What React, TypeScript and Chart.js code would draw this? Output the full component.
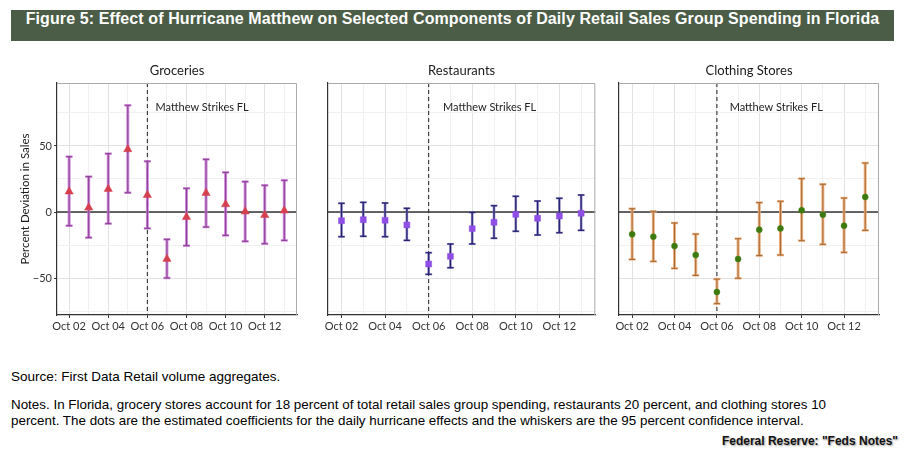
import React, { useEffect, useRef } from "react";
import { Chart, registerables } from "chart.js";

Chart.register(...registerables);

// ---------- data ----------
const dates = ["Oct 02", "Oct 03", "Oct 04", "Oct 05", "Oct 06", "Oct 07", "Oct 08", "Oct 09", "Oct 10", "Oct 11", "Oct 12", "Oct 13"];
const eventIndex = 4; // Oct 06
const eventLabel = "Matthew Strikes FL";
const yTicks = [-75, -50, -25, 0, 25, 50, 75];
const yLabelTicks = [-50, 0, 50];

const groceriesEst = [15.4, 3.3, 17.4, 47.5, 12.8, -35.6, -3.8, 14.4, 5.8, 0.3, -2.3, 1.0];
const groceriesLow = [-10.4, -19.4, -8.8, 14.6, -12.4, -50.0, -25.5, -11.4, -17.7, -22.2, -24.0, -21.5];
const groceriesHigh = [41.9, 26.8, 44.2, 80.8, 38.4, -20.7, 17.9, 39.9, 30.0, 23.0, 20.2, 24.0];

const restaurantsEst = [-6.6, -5.8, -6.3, -9.8, -39.4, -33.6, -12.6, -7.8, -1.8, -4.8, -3.0, -1.0];
const restaurantsLow = [-18.7, -18.4, -18.7, -21.5, -47.2, -42.2, -24.2, -19.9, -14.6, -17.4, -15.7, -13.9];
const restaurantsHigh = [6.6, 7.3, 6.8, 2.8, -30.8, -24.2, -0.3, 4.8, 11.9, 8.3, 10.4, 12.9];

const clothingEst = [-16.9, -18.7, -25.8, -32.6, -60.6, -35.6, -13.4, -12.4, 1.3, -2.0, -10.4, 11.4];
const clothingLow = [-35.9, -37.4, -42.7, -48.0, -69.4, -50.2, -33.0, -32.6, -21.7, -24.5, -30.6, -13.9];
const clothingHigh = [2.5, 0.5, -8.3, -16.7, -50.8, -20.2, 7.1, 8.1, 25.3, 21.0, 10.6, 37.1];

const FONT = "Lato, 'Open Sans', sans-serif";

type PanelCfg = {
  title: string;
  est: number[];
  low: number[];
  high: number[];
  left: number;
  width: number;
  yWidth: number;
  padRight: number;
  showY: boolean;
  pointStyle: string;
  pointColor: string;
  pointRadius: number;
  outer: string;
  outerWidth: number;
  inner: string;
  innerWidth: number;
};

const panels: PanelCfg[] = [
  {
    title: "Groceries", est: groceriesEst, low: groceriesLow, high: groceriesHigh,
    left: 0, width: 310, yWidth: 57, padRight: 13, showY: true,
    pointStyle: "triangle", pointColor: "#d6404e", pointRadius: 4.8,
    outer: "rgba(196,118,210,0.85)", outerWidth: 3, inner: "#8b3d93", innerWidth: 1,
  },
  {
    title: "Restaurants", est: restaurantsEst, low: restaurantsLow, high: restaurantsHigh,
    left: 310, width: 290, yWidth: 18, padRight: 2, showY: false,
    pointStyle: "rect", pointColor: "#8f4fe6", pointRadius: 4.2,
    outer: "rgba(112,106,184,0.8)", outerWidth: 2.6, inner: "#26216e", innerWidth: 1.2,
  },
  {
    title: "Clothing Stores", est: clothingEst, low: clothingLow, high: clothingHigh,
    left: 600, width: 290, yWidth: 19, padRight: 11, showY: false,
    pointStyle: "circle", pointColor: "#3d7a10", pointRadius: 3,
    outer: "rgba(234,174,126,0.95)", outerWidth: 3, inner: "#a8672f", innerWidth: 1,
  },
];

function makePlugin(cfg: PanelCfg) {
  return {
    id: "panelDecor",
    beforeDatasetsDraw(chart: any) {
      const { ctx, chartArea: a, scales } = chart;
      const x = scales.x;
      const y = scales.y;
      const line = (x1: number, y1: number, x2: number, y2: number) => {
        ctx.beginPath();
        ctx.moveTo(x1, y1);
        ctx.lineTo(x2, y2);
        ctx.stroke();
      };
      ctx.save();
      // zero line
      ctx.strokeStyle = "#333";
      ctx.lineWidth = 1.3;
      const y0 = y.getPixelForValue(0);
      line(a.left, y0, a.right, y0);
      // event line
      const xe = x.getPixelForValue(eventIndex);
      ctx.lineWidth = 1.1;
      ctx.setLineDash([4, 3]);
      line(xe, a.top, xe, a.bottom);
      ctx.setLineDash([]);
      // whiskers
      const cap = 3;
      for (let i = 0; i < cfg.est.length; i++) {
        const px = x.getPixelForValue(i);
        const lo = y.getPixelForValue(cfg.low[i]);
        const hi = y.getPixelForValue(cfg.high[i]);
        ctx.strokeStyle = cfg.outer;
        ctx.lineWidth = cfg.outerWidth;
        line(px, lo, px, hi);
        ctx.lineWidth = cfg.outerWidth - 0.6;
        line(px - cap - 0.5, lo, px + cap + 0.5, lo);
        line(px - cap - 0.5, hi, px + cap + 0.5, hi);
        ctx.strokeStyle = cfg.inner;
        ctx.lineWidth = cfg.innerWidth;
        line(px, lo, px, hi);
        line(px - cap, lo, px + cap, lo);
        line(px - cap, hi, px + cap, hi);
      }
      ctx.restore();
    },
    afterDraw(chart: any) {
      const { ctx, chartArea: a, scales } = chart;
      const x = scales.x;
      const y = scales.y;
      ctx.save();
      // top/right border
      ctx.strokeStyle = "#ababab";
      ctx.lineWidth = 1;
      ctx.beginPath();
      ctx.moveTo(a.left, a.top + 0.5);
      ctx.lineTo(a.right - 0.5, a.top + 0.5);
      ctx.lineTo(a.right - 0.5, a.bottom);
      ctx.stroke();
      // panel title
      ctx.fillStyle = "#1a1a1a";
      ctx.font = `13px ${FONT}`;
      ctx.textAlign = "center";
      ctx.textBaseline = "middle";
      ctx.fillText(cfg.title, (a.left + a.right) / 2, 16);
      // annotation
      ctx.fillStyle = "#222";
      ctx.font = `11px ${FONT}`;
      ctx.fillText(eventLabel, x.getPixelForValue(6.8), y.getPixelForValue(79));
      // y title
      if (cfg.showY) {
        ctx.translate(25, (a.top + a.bottom) / 2);
        ctx.rotate(-Math.PI / 2);
        ctx.fillStyle = "#1a1a1a";
        ctx.font = `11.5px ${FONT}`;
        ctx.fillText("Percent Deviation in Sales", 0, 0);
      }
      ctx.restore();
    },
  };
}

function Panel({ cfg }: { cfg: PanelCfg }) {
  const ref = useRef<HTMLCanvasElement>(null);
  useEffect(() => {
    if (!ref.current) return;
    const chart = new Chart(ref.current, {
      type: "scatter",
      data: {
        datasets: [
          {
            data: cfg.est.map((v, i) => ({ x: i, y: v })),
            pointStyle: cfg.pointStyle as any,
            pointRadius: cfg.pointRadius,
            pointBackgroundColor: cfg.pointColor,
            pointBorderColor: cfg.pointColor,
            pointBorderWidth: 0.5,
          },
        ],
      },
      options: {
        animation: false,
        responsive: true,
        maintainAspectRatio: false,
        layout: { padding: { top: 28, right: cfg.padRight, bottom: 0, left: 0 } },
        plugins: { legend: { display: false }, tooltip: { enabled: false }, title: { display: false } },
        scales: {
          x: {
            type: "linear",
            min: -0.62,
            max: 11.65,
            afterBuildTicks: (s: any) => {
              s.ticks = dates.map((_, i) => ({ value: i }));
            },
            afterFit: (s: any) => {
              s.height = 30;
            },
            ticks: {
              autoSkip: false,
              maxRotation: 0,
              padding: 2,
              color: "#333",
              font: { family: FONT, size: 11 },
              callback: (_v: any, i: number) => (i % 2 === 0 ? dates[i] : ""),
            },
            grid: {
              color: (c: any) => (c.index % 2 === 0 ? "#e2e2e2" : "#f1f1f1"),
              lineWidth: 1,
              drawTicks: true,
              tickLength: 3,
              tickColor: (c: any) => (c.index % 2 === 0 ? "#333" : "rgba(0,0,0,0)"),
            },
            border: { color: "#333", width: 1.2 },
          },
          y: {
            type: "linear",
            min: -78,
            max: 97.7,
            afterBuildTicks: (s: any) => {
              s.ticks = yTicks.map((v) => ({ value: v }));
            },
            afterFit: (s: any) => {
              s.width = cfg.yWidth;
            },
            ticks: {
              display: cfg.showY,
              padding: 2,
              color: "#333",
              font: { family: FONT, size: 11 },
              callback: (v: any) =>
                yLabelTicks.includes(Number(v)) ? (Number(v) < 0 ? "\u2212" + Math.abs(Number(v)) : String(v)) : "",
            },
            grid: {
              color: (c: any) => (c.tick && c.tick.value % 50 === 0 ? "#e2e2e2" : "#f1f1f1"),
              lineWidth: 1,
              drawTicks: cfg.showY,
              tickLength: 3,
              tickColor: (c: any) => (c.tick && c.tick.value % 50 === 0 ? "#333" : "rgba(0,0,0,0)"),
            },
            border: { color: "#333", width: 1.2 },
          },
        },
      },
      plugins: [makePlugin(cfg)],
    } as any);
    return () => chart.destroy();
  }, [cfg]);
  return (
    <div style={{ position: "absolute", left: cfg.left, top: 55, width: cfg.width, height: 290 }}>
      <canvas ref={ref} />
    </div>
  );
}

export default function App() {
  const sans = "'Liberation Sans', Arial, sans-serif";
  return (
    <div style={{ position: "absolute", left: 0, top: 0, width: 905, height: 455, background: "#fff", overflow: "hidden" }}>
      <div
        style={{
          position: "absolute", left: 11, top: 10, width: 883, height: 31, background: "#4b5d47",
          color: "#fff", fontFamily: sans, fontWeight: "bold", fontSize: 16, lineHeight: "18px",
          letterSpacing: "0.1px", textAlign: "center", whiteSpace: "nowrap",
        }}
      >
        Figure 5: Effect of Hurricane Matthew on Selected Components of Daily Retail Sales Group Spending in Florida
      </div>
      {panels.map((p) => (
        <Panel key={p.title} cfg={p} />
      ))}
      <div style={{ position: "absolute", left: 11, top: 369, fontFamily: sans, fontSize: 13.5, lineHeight: "16px", color: "#000", whiteSpace: "nowrap" }}>
        Source: First Data Retail volume aggregates.
      </div>
      <div style={{ position: "absolute", left: 11, top: 397, fontFamily: sans, fontSize: 13.4, lineHeight: "16px", color: "#000", whiteSpace: "nowrap" }}>
        Notes. In Florida, grocery stores account for 18 percent of total retail sales group spending, restaurants 20 percent, and clothing stores 10
        <br />
        percent. The dots are the estimated coefficients for the daily hurricane effects and the whiskers are the 95 percent confidence interval.
      </div>
      <div
        style={{
          position: "absolute", right: 7, top: 434, fontFamily: sans, fontSize: 12, fontWeight: "bold", lineHeight: "15px",
          color: "#111", whiteSpace: "nowrap", textShadow: "1px 1px 2px #999",
        }}
      >
        Federal Reserve: "Feds Notes"
      </div>
    </div>
  );
}
